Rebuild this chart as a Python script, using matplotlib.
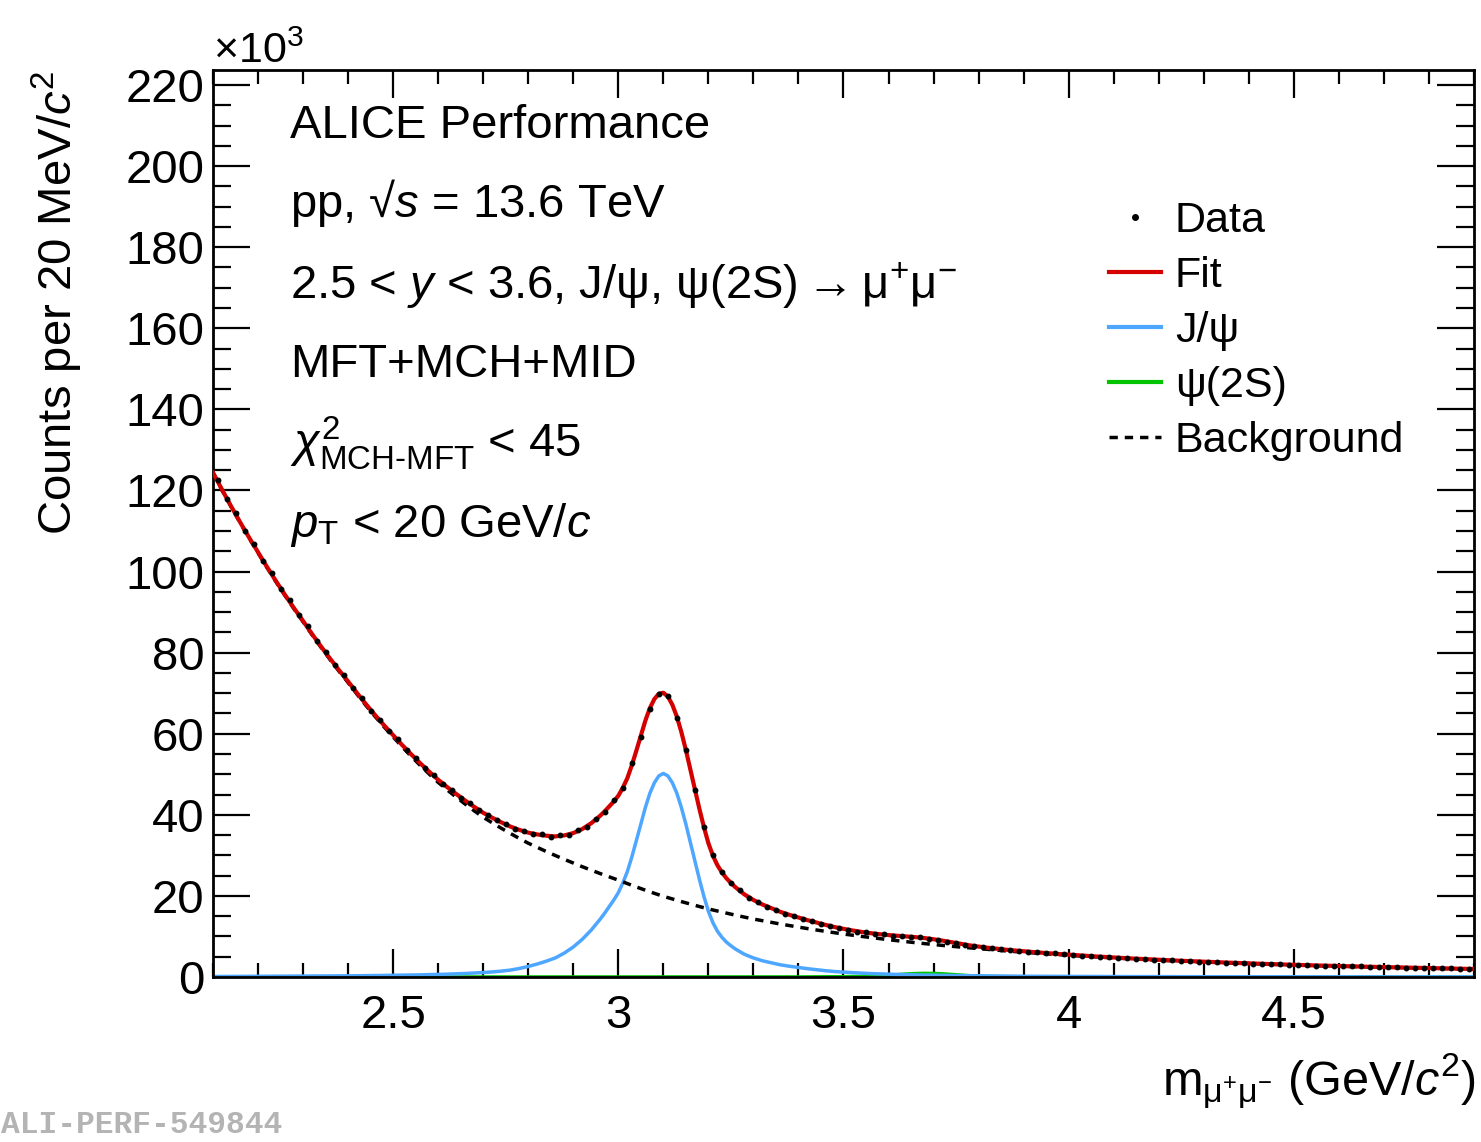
import numpy as np
import matplotlib
matplotlib.use("Agg")
import matplotlib.pyplot as plt
from matplotlib.lines import Line2D
from matplotlib.ticker import MultipleLocator, FuncFormatter

plt.rcParams['font.family'] = ['Liberation Sans', 'DejaVu Sans']
plt.rcParams['mathtext.fontset'] = 'custom'
plt.rcParams['mathtext.rm'] = 'Liberation Sans'
plt.rcParams['mathtext.it'] = 'Liberation Sans:italic'
plt.rcParams['mathtext.bf'] = 'Liberation Sans:bold'

# curves sampled every 20 MeV from 2.10 to 4.90 GeV/c^2 (values in 10^3 counts)
curve_start = 2.10
curve_step = 0.02

background = [
    124.3, 120.08, 116.01, 112.07, 108.27, 104.6, 100.95, 97.44, 94.04, 90.76,
    87.6, 84.37, 81.26, 78.27, 75.38, 72.6, 69.70, 66.91, 64.23, 61.67,
    59.2, 56.77, 54.44, 52.20, 50.06, 48.0, 46.14, 44.36, 42.64, 40.99,
    39.4, 38.03, 36.70, 35.42, 34.19, 33.0, 31.96, 30.95, 29.97, 29.02,
    28.1, 27.20, 26.34, 25.50, 24.69, 23.9, 23.04, 22.21, 21.41, 20.64,
    19.9, 19.24, 18.60, 17.98, 17.38, 16.8, 16.27, 15.75, 15.25, 14.77,
    14.3, 13.88, 13.46, 13.06, 12.68, 12.3, 11.94, 11.59, 11.25, 10.92,
    10.6, 10.30, 10.02, 9.74, 9.47, 9.2, 8.95, 8.70, 8.46, 8.23,
    8.0, 7.79, 7.58, 7.38, 7.19, 7.0, 6.81, 6.62, 6.44, 6.27,
    6.1, 5.94, 5.79, 5.64, 5.49, 5.35, 5.21, 5.08, 4.95, 4.82,
    4.7, 4.58, 4.47, 4.36, 4.25, 4.15, 4.06, 3.96, 3.87, 3.78,
    3.7, 3.62, 3.53, 3.45, 3.38, 3.3, 3.23, 3.16, 3.08, 3.02,
    2.95, 2.89, 2.83, 2.77, 2.71, 2.65, 2.60, 2.55, 2.50, 2.45,
    2.4, 2.35, 2.30, 2.25, 2.20, 2.15, 2.11, 2.07, 2.03, 1.99,
    1.95]

jpsi = [
    0.12, 0.13, 0.13, 0.14, 0.15, 0.16, 0.17, 0.18, 0.19, 0.20,
    0.21, 0.22, 0.24, 0.25, 0.27, 0.29, 0.31, 0.33, 0.36, 0.39,
    0.42, 0.45, 0.49, 0.53, 0.58, 0.64, 0.70, 0.78, 0.87, 0.98,
    1.10, 1.25, 1.45, 1.70, 2.10, 2.60, 3.20, 3.90, 4.70, 5.90,
    7.40, 9.30, 11.6, 14.3, 17.4, 20.8, 26.0, 33.6, 41.8, 47.9,
    50.2, 47.9, 41.8, 33.2, 24.1, 16.2, 11.3, 8.6, 6.9, 5.6,
    4.7, 4.0, 3.5, 3.0, 2.65, 2.35, 2.05, 1.80, 1.55, 1.35,
    1.20, 1.07, 0.95, 0.85, 0.77, 0.70, 0.63, 0.57, 0.52, 0.47,
    0.43, 0.39, 0.36, 0.33, 0.30, 0.28, 0.26, 0.24, 0.22, 0.21,
    0.19, 0.18, 0.17, 0.16, 0.15, 0.14, 0.13, 0.13, 0.12, 0.12,
    0.11, 0.11, 0.10, 0.10, 0.09, 0.09, 0.09, 0.08, 0.08, 0.08,
    0.07, 0.07, 0.07, 0.07, 0.06, 0.06, 0.06, 0.06, 0.06, 0.05,
    0.05, 0.05, 0.05, 0.05, 0.05, 0.04, 0.04, 0.04, 0.04, 0.04,
    0.04, 0.04, 0.04, 0.03, 0.03, 0.03, 0.03, 0.03, 0.03, 0.03,
    0.03]

# extra curve samples in the peak region, at 2.97, 2.99, ..., 3.25
peak_start = 2.97
background_peak = [25.09, 24.29, 23.47, 22.62, 21.81, 21.02, 20.27, 19.57,
                   18.92, 18.29, 17.68, 17.09, 16.53, 16.01, 15.50]
jpsi_peak = [15.8, 19.0, 23.2, 29.6, 37.7, 45.3, 49.6, 49.6,
             45.3, 37.7, 28.6, 19.9, 13.4, 9.8, 7.7]

# psi(2S) only non-zero between 3.40 and 4.00
psi2s_start = 3.40
psi2s = [
    0.02, 0.03, 0.04, 0.05, 0.06, 0.08, 0.11, 0.15, 0.22, 0.32,
    0.44, 0.59, 0.74, 0.85, 0.90, 0.88, 0.79, 0.64, 0.47, 0.32,
    0.22, 0.15, 0.11, 0.08, 0.06, 0.05, 0.04, 0.03, 0.03, 0.02,
    0.02]

# data, one value per 20 MeV bin (bin centres 2.11 ... 4.89)
data = [
    122.6, 117.9, 114.4, 110.1, 106.9, 102.7, 99.6, 95.7, 92.9, 89.2,
    86.5, 82.8, 80.2, 76.9, 74.5, 71.2, 68.9, 65.7, 63.5, 60.6,
    58.7, 55.9, 54.0, 51.5, 49.8, 47.6, 46.2, 44.1, 42.9, 41.1,
    40.0, 38.6, 37.8, 36.6, 36.1, 35.3, 35.2, 34.6, 34.9, 35.1,
    36.2, 37.1, 39.0, 40.8, 43.6, 46.6, 52.7, 59.3, 66.1, 69.9,
    69.3, 64.0, 55.9, 46.2, 37.1, 30.0, 25.8, 23.1, 21.4, 19.6,
    18.5, 17.3, 16.6, 15.6, 15.1, 14.2, 13.8, 13.1, 12.7, 12.0,
    11.7, 11.2, 11.0, 10.6, 10.5, 10.2, 10.1, 9.9, 9.8, 9.4,
    9.2, 8.7, 8.4, 7.9, 7.7, 7.3, 7.1, 6.9, 6.6, 6.5,
    6.2, 6.1, 5.9, 5.8, 5.6, 5.4, 5.3, 5.1, 5.0, 4.9,
    4.7, 4.6, 4.5, 4.4, 4.3, 4.2, 4.1, 4.0, 3.9, 3.8,
    3.7, 3.7, 3.5, 3.5, 3.4, 3.3, 3.3, 3.2, 3.1, 3.0,
    3.0, 2.9, 2.8, 2.8, 2.7, 2.7, 2.6, 2.6, 2.5, 2.5,
    2.4, 2.4, 2.3, 2.3, 2.2, 2.2, 2.1, 2.1, 2.0, 2.0]

legend_labels = ["Data", "Fit", "J/\u03c8", "\u03c8(2S)", "Background"]

W, H = 1481, 1142


def fx(px):
    return px / W


def fy(py):
    return 1 - py / H


grid = curve_start + curve_step * np.arange(len(background))
centres = grid[:-1] + curve_step / 2

psi2 = np.zeros(len(grid))
i0 = int(round((psi2s_start - curve_start) / curve_step))
psi2[i0:i0 + len(psi2s)] = psi2s

# merge the finer peak samples into the curves
peak_x = peak_start + curve_step * np.arange(len(jpsi_peak))
mass = np.concatenate([grid, peak_x])
order = np.argsort(mass)
mass = mass[order]
bkg = np.concatenate([background, background_peak])[order]
sig = np.concatenate([jpsi, jpsi_peak])[order]
psi2 = np.concatenate([psi2, np.zeros(len(peak_x))])[order]
fit = bkg + sig + psi2

counts = np.array(data)
err = np.sqrt(counts * 1e3) / 1e3

red = '#d40000'
blue = '#4da6ff'
green = '#00c400'
dash = (0, (2.4, 2.0))

fig = plt.figure(figsize=(W / 100, H / 100), dpi=100)
ax = fig.add_axes([fx(213), fy(977), fx(1474) - fx(213), fy(70) - fy(977)])

ax.plot(mass, psi2, color=green, lw=2.5, zorder=2)
ax.plot(mass, sig, color=blue, lw=2.5, zorder=2)
ax.plot(mass, bkg, color='black', lw=2.5, ls=dash, zorder=3)
ax.plot(mass, fit, color=red, lw=3, zorder=4)
ax.errorbar(centres, counts, yerr=err, fmt='o', ms=3.2, color='black',
            elinewidth=1, capsize=0, zorder=5)

ax.set_xlim(2.1, 4.9)
ax.set_ylim(0, 223.7)
ax.xaxis.set_major_locator(MultipleLocator(0.5))
ax.xaxis.set_minor_locator(MultipleLocator(0.1))
ax.yaxis.set_major_locator(MultipleLocator(20))
ax.yaxis.set_minor_locator(MultipleLocator(5))
ax.xaxis.set_major_formatter(FuncFormatter(lambda v, p: "%g" % v))
ax.yaxis.set_major_formatter(FuncFormatter(lambda v, p: "%g" % v))
ax.tick_params(which='both', direction='in', top=True, right=True,
               width=1.6, labelsize=34)
ax.tick_params(axis='y', which='major', length=26.5, pad=6)
ax.tick_params(axis='y', which='minor', length=13)
ax.tick_params(axis='x', which='major', length=20, pad=12)
ax.tick_params(axis='x', which='minor', length=10)
for s in ax.spines.values():
    s.set_linewidth(2)

# labels
fig.text(fx(213), fy(63), "\u00d710$^{3}$", fontsize=31, ha='left', va='baseline')
fig.text(fx(57), fy(70), "Counts per 20 MeV/$c^{2}$", fontsize=34,
         rotation=90, ha='center', va='top')
fig.text(fx(1476), fy(1095),
         "m$_{\\mathrm{\u03bc^{+}\u03bc^{-}}}$ (GeV/$c^{2}$)", fontsize=35,
         ha='right', va='baseline')

info = [
    (138, "ALICE Performance"),
    (217, "pp, \u221a$s$ = 13.6 TeV"),
    (299, "2.5 < $y$ < 3.6, J/\u03c8, \u03c8(2S)$\\rightarrow$\u03bc$^{+}$\u03bc$^{-}$"),
    (377, "MFT+MCH+MID"),
    (457, "$\\chi^{2}_{\\mathrm{MCH\\text{-}MFT}}$ < 45"),
    (537, "$p_{\\mathrm{T}}$ < 20 GeV/$c$"),
]
for py, txt in info:
    fig.text(fx(290), fy(py), txt, fontsize=34, ha='left', va='baseline')

handles = [
    Line2D([], [], ls='none', marker='o', ms=4, color='black'),
    Line2D([], [], color=red, lw=3),
    Line2D([], [], color=blue, lw=3),
    Line2D([], [], color=green, lw=3),
    Line2D([], [], color='black', lw=2.5, ls=dash),
]
ax.legend(handles, legend_labels, loc='upper left',
          bbox_to_anchor=(fx(1109), fy(201)), bbox_transform=fig.transFigure,
          frameon=False, fontsize=31, handlelength=1.2, handletextpad=0.33,
          labelspacing=0.35, borderpad=0, borderaxespad=0)

fig.text(fx(1), fy(1140), "ALI-PERF-549844", family='Liberation Mono',
         weight='bold', color='#b4b4b4', fontsize=22.5, ha='left', va='bottom')

fig.savefig("out.png", dpi=100)
